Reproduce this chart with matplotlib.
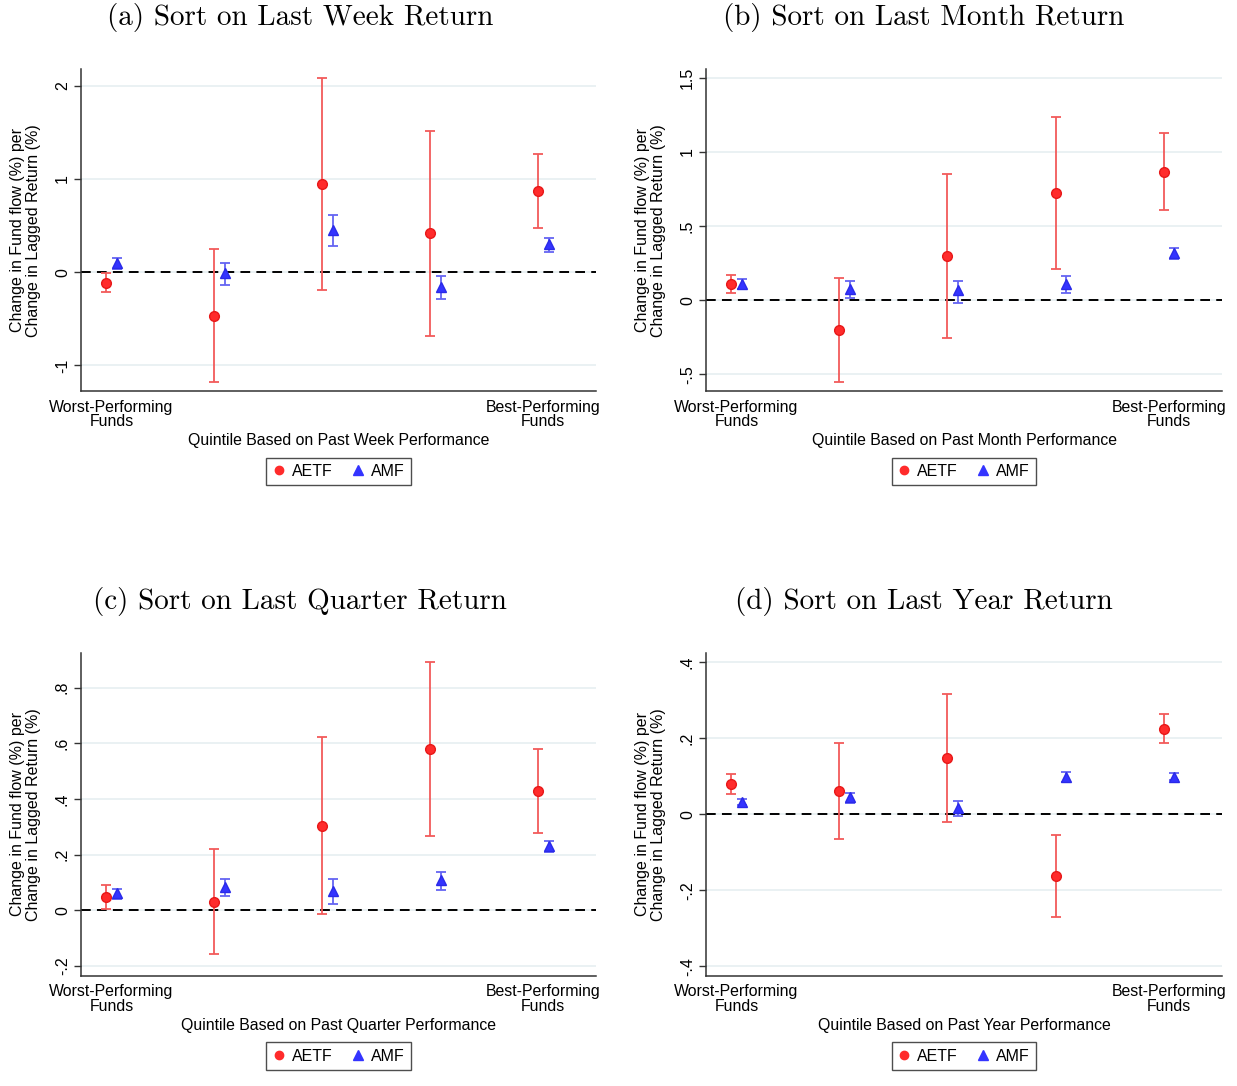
import matplotlib
matplotlib.use("Agg")
import matplotlib.pyplot as plt
from matplotlib.lines import Line2D
import numpy as np

plt.rcParams["font.family"] = ["Liberation Sans", "DejaVu Sans"]

quintiles = np.array([1, 2, 3, 4, 5])

titles = ["(a) Sort on Last Week Return", "(b) Sort on Last Month Return",
          "(c) Sort on Last Quarter Return", "(d) Sort on Last Year Return"]
xlabels = ["Quintile Based on Past Week Performance",
           "Quintile Based on Past Month Performance",
           "Quintile Based on Past Quarter Performance",
           "Quintile Based on Past Year Performance"]

# ---- point estimates and confidence bounds ----
aetf_week = [-0.115, -0.466, 0.943, 0.416, 0.871]
aetf_week_lo = [-0.215, -1.18, -0.186, -0.688, 0.47]
aetf_week_hi = [-0.007, 0.25, 2.08, 1.52, 1.27]
amf_week = [0.10, -0.01, 0.45, -0.16, 0.30]
amf_week_lo = [0.03, -0.14, 0.28, -0.29, 0.22]
amf_week_hi = [0.15, 0.10, 0.61, -0.04, 0.37]

aetf_month = [0.108, -0.20, 0.297, 0.72, 0.865]
aetf_month_lo = [0.047, -0.55, -0.254, 0.211, 0.607]
aetf_month_hi = [0.17, 0.146, 0.85, 1.236, 1.126]
amf_month = [0.108, 0.074, 0.065, 0.11, 0.317]
amf_month_lo = [0.074, 0.013, -0.018, 0.049, 0.276]
amf_month_hi = [0.142, 0.126, 0.132, 0.164, 0.353]

aetf_quarter = [0.049, 0.030, 0.304, 0.578, 0.427]
aetf_quarter_lo = [0.006, -0.158, -0.014, 0.265, 0.277]
aetf_quarter_hi = [0.091, 0.219, 0.624, 0.89, 0.579]
amf_quarter = [0.061, 0.084, 0.071, 0.109, 0.231]
amf_quarter_lo = [0.041, 0.051, 0.022, 0.073, 0.209]
amf_quarter_hi = [0.078, 0.114, 0.114, 0.139, 0.25]

aetf_year = [0.080, 0.060, 0.147, -0.163, 0.225]
aetf_year_lo = [0.053, -0.066, -0.020, -0.270, 0.186]
aetf_year_hi = [0.107, 0.186, 0.317, -0.055, 0.264]
amf_year = [0.032, 0.044, 0.017, 0.099, 0.099]
amf_year_lo = [0.023, 0.029, -0.005, 0.084, 0.091]
amf_year_hi = [0.040, 0.057, 0.034, 0.112, 0.108]

# y ticks / labels in Stata style
yticks_week = [-1, 0, 1, 2]
ylabels_week = ["-1", "0", "1", "2"]
yticks_month = [-0.5, 0, 0.5, 1, 1.5]
ylabels_month = ["-.5", "0", ".5", "1", "1.5"]
yticks_quarter = [-0.2, 0, 0.2, 0.4, 0.6, 0.8]
ylabels_quarter = ["-.2", "0", ".2", ".4", ".6", ".8"]
yticks_year = [-0.4, -0.2, 0, 0.2, 0.4]
ylabels_year = ["-.4", "-.2", "0", ".2", ".4"]

panels = [
    (aetf_week, aetf_week_lo, aetf_week_hi, amf_week, amf_week_lo, amf_week_hi,
     yticks_week, ylabels_week, (-1.28, 2.18)),
    (aetf_month, aetf_month_lo, aetf_month_hi, amf_month, amf_month_lo, amf_month_hi,
     yticks_month, ylabels_month, (-0.617, 1.56)),
    (aetf_quarter, aetf_quarter_lo, aetf_quarter_hi, amf_quarter, amf_quarter_lo, amf_quarter_hi,
     yticks_quarter, ylabels_quarter, (-0.236, 0.924)),
    (aetf_year, aetf_year_lo, aetf_year_hi, amf_year, amf_year_lo, amf_year_hi,
     yticks_year, ylabels_year, (-0.4255, 0.424)),
]

W, H = 1237, 1086
fig = plt.figure(figsize=(W / 100, H / 100), dpi=100)

# axes boxes in pixels: left, right, top, bottom
boxes = [(81, 596, 69, 391.5), (706, 1222, 69, 391.5),
         (81, 596, 653, 976), (706, 1222, 653, 976)]
# title centres in pixels
title_pos = [(300, 17), (924, 17), (300, 601), (924, 601)]

red = "#ff2b2b"
red_bar = "#f25a5a"
blue = "#3434ff"
blue_bar = "#6464f2"
off = 0.05

for i, (box, p) in enumerate(zip(boxes, panels)):
    l, r, t, b = box
    ax = fig.add_axes([l / W, 1 - b / H, (r - l) / W, (b - t) / H])
    a, alo, ahi, m, mlo, mhi, yt, yl, ylim = p
    a, alo, ahi = np.array(a), np.array(alo), np.array(ahi)
    m, mlo, mhi = np.array(m), np.array(mlo), np.array(mhi)

    for v in yt:
        ax.axhline(v, color="#e6eff1", lw=1.2, zorder=0)
    ax.axhline(0, color="black", lw=1.4, ls=(0, (5, 3.2)), zorder=1)

    ax.errorbar(quintiles - off, a, yerr=[a - alo, ahi - a], fmt="none",
                ecolor=red_bar, elinewidth=1.3, capsize=3.6, capthick=1.3, zorder=2)
    ax.plot(quintiles - off, a, "o", color=red, mec="#e81818", ms=7, zorder=4)
    ax.errorbar(quintiles + off, m, yerr=[m - mlo, mhi - m], fmt="none",
                ecolor=blue_bar, elinewidth=1.3, capsize=3.6, capthick=1.3, zorder=2)
    ax.plot(quintiles + off, m, "^", color=blue, mec="#2a2ae8", ms=7.5, zorder=4)

    ax.set_xlim(0.717, 5.49)
    ax.set_ylim(*ylim)
    ax.set_yticks(yt)
    ax.set_yticklabels(yl, rotation=90, va="center", fontsize=11.5)
    ax.set_xticks([1, 5])
    ax.set_xticklabels(["Worst-Performing\nFunds", "Best-Performing\nFunds"],
                       fontsize=11.4, linespacing=0.95)
    ax.tick_params(axis="x", length=0, pad=6)
    ax.tick_params(axis="y", length=5, width=1, color="#333333", pad=3)
    for s in ["top", "right"]:
        ax.spines[s].set_visible(False)
    for s in ["left", "bottom"]:
        ax.spines[s].set_color("#333333")
        ax.spines[s].set_linewidth(1.1)

    ax.set_xlabel(xlabels[i], fontsize=11.4, labelpad=3)
    ax.set_ylabel("Change in Fund flow (%) per\nChange in Lagged Return (%)",
                  fontsize=11.5, linespacing=1.05, labelpad=10)

    tx, ty = title_pos[i]
    fig.text(tx / W, 1 - ty / H, titles[i], fontfamily="cmr10", fontsize=21,
             ha="center", va="center")

    handles = [Line2D([], [], ls="none", marker="o", color=red, ms=6),
               Line2D([], [], ls="none", marker="^", color=blue, ms=6.5)]
    leg = ax.legend(handles, ["AETF", "AMF"], loc="upper center",
                    bbox_to_anchor=(0.5, -0.19), ncol=2, frameon=True,
                    fancybox=False, edgecolor="#222222", fontsize=11.5,
                    handlelength=0.8, handletextpad=0.4, columnspacing=1.2,
                    borderpad=0.4, borderaxespad=0.3)
    leg.get_frame().set_linewidth(1.0)

fig.savefig("out.png", dpi=100)
